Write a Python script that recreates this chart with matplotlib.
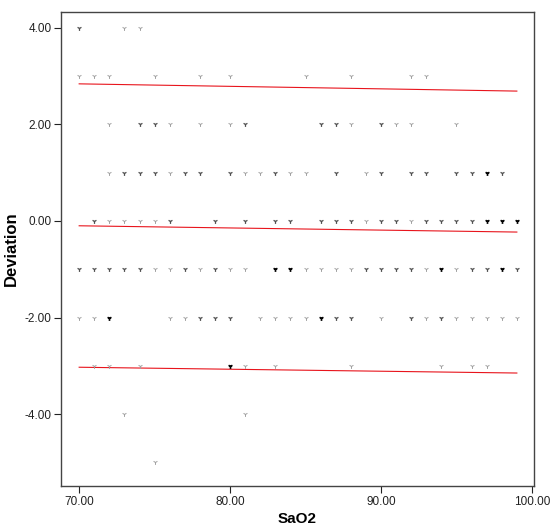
import matplotlib
matplotlib.use("Agg")
import matplotlib.pyplot as plt

plt.rcParams['font.family'] = ['Liberation Sans', 'DejaVu Sans']

# Deviation rows -> SaO2 values, with overlap level (1 = single, 2 = few, 3 = many)
row_p4 = [70, 73, 74]
lvl_p4 = [2, 1, 1]
row_p3 = [70, 71, 72, 75, 78, 80, 85, 88, 92, 93]
lvl_p3 = [1, 1, 1, 1, 1, 1, 1, 1, 1, 1]
row_p2 = [72, 74, 75, 76, 78, 80, 81, 86, 87, 88, 90, 91, 92, 95]
lvl_p2 = [1, 2, 2, 1, 1, 1, 2, 2, 2, 1, 2, 1, 1, 1]
row_p1 = [72, 73, 74, 75, 76, 77, 78, 80, 81, 82, 83, 84, 85, 87, 89, 90, 92, 93, 95, 96, 97, 98]
lvl_p1 = [1, 2, 2, 2, 1, 2, 2, 2, 1, 1, 2, 1, 1, 2, 1, 2, 2, 2, 2, 2, 3, 2]
row_0 = [71, 72, 73, 74, 75, 76, 79, 81, 83, 84, 86, 87, 88, 89, 90, 91, 92, 93, 94, 95, 96, 97, 98, 99]
lvl_0 = [2, 1, 1, 1, 1, 2, 2, 2, 2, 2, 2, 2, 2, 1, 2, 2, 1, 2, 2, 2, 2, 3, 3, 3]
row_m1 = [70, 71, 72, 73, 74, 75, 76, 77, 78, 79, 80, 81, 83, 84, 85, 86, 87, 88, 89, 90, 91, 92, 93, 94, 95, 96, 97, 98, 99]
lvl_m1 = [2, 2, 2, 2, 2, 1, 1, 2, 1, 2, 1, 1, 3, 3, 1, 1, 1, 1, 2, 2, 2, 2, 1, 3, 1, 2, 2, 3, 2]
row_m2 = [70, 71, 72, 76, 77, 78, 79, 80, 82, 83, 84, 85, 86, 87, 88, 90, 92, 93, 94, 95, 96, 97, 98, 99]
lvl_m2 = [1, 1, 3, 1, 1, 2, 2, 2, 1, 1, 1, 1, 3, 2, 2, 1, 2, 1, 2, 1, 1, 1, 1, 1]
row_m3 = [71, 72, 74, 80, 81, 83, 88, 94, 96, 97]
lvl_m3 = [1, 1, 1, 3, 1, 1, 1, 1, 1, 1]
row_m4 = [73, 81]
lvl_m4 = [1, 1]
row_m5 = [75]
lvl_m5 = [1]

rows = {4: (row_p4, lvl_p4), 3: (row_p3, lvl_p3), 2: (row_p2, lvl_p2), 1: (row_p1, lvl_p1),
        0: (row_0, lvl_0), -1: (row_m1, lvl_m1), -2: (row_m2, lvl_m2), -3: (row_m3, lvl_m3),
        -4: (row_m4, lvl_m4), -5: (row_m5, lvl_m5)}

# Regression lines (x range and fitted endpoints)
line_x = [70, 99]
upper_y = [2.84, 2.69]
mean_y = [-0.10, -0.23]
lower_y = [-3.03, -3.15]

xticks = [70, 80, 90, 100]
yticks = [-4, -2, 0, 2, 4]

level_colors = {1: '#a0a0a0', 2: '#505050', 3: '#000000'}
level_lw = {1: 0.7, 2: 0.9, 3: 1.2}

fig = plt.figure(figsize=(5.55, 5.25), dpi=100)
ax = fig.add_axes([0.110, 0.0743, 0.852, 0.903])

for dev, (xs, lv) in rows.items():
    for lev in (1, 2, 3):
        px = [x for x, l in zip(xs, lv) if l == lev]
        if px:
            ax.scatter(px, [dev] * len(px), marker='1', s=12, c=level_colors[lev],
                       linewidths=level_lw[lev], zorder=3)

for ys in (upper_y, mean_y, lower_y):
    ax.plot(line_x, ys, color='#e8141c', lw=0.8, zorder=2)

ax.set_xlim(68.8, 100.13)
ax.set_ylim(-5.49, 4.33)
ax.set_xticks(xticks)
ax.set_xticklabels([f"{v:.2f}" for v in xticks])
ax.set_yticks(yticks)
ax.set_yticklabels([f"{v:.2f}" for v in yticks])
ax.tick_params(direction='out', length=5, width=0.8, labelsize=8.5, colors='#222222', pad=2)
for sp in ax.spines.values():
    sp.set_color('#444444')
    sp.set_linewidth(1.0)

ax.set_xlabel('SaO2', fontsize=11, fontweight='bold', labelpad=3)
ax.set_ylabel('Deviation', fontsize=12, fontweight='bold', labelpad=4)

fig.savefig('out.png', dpi=100)
